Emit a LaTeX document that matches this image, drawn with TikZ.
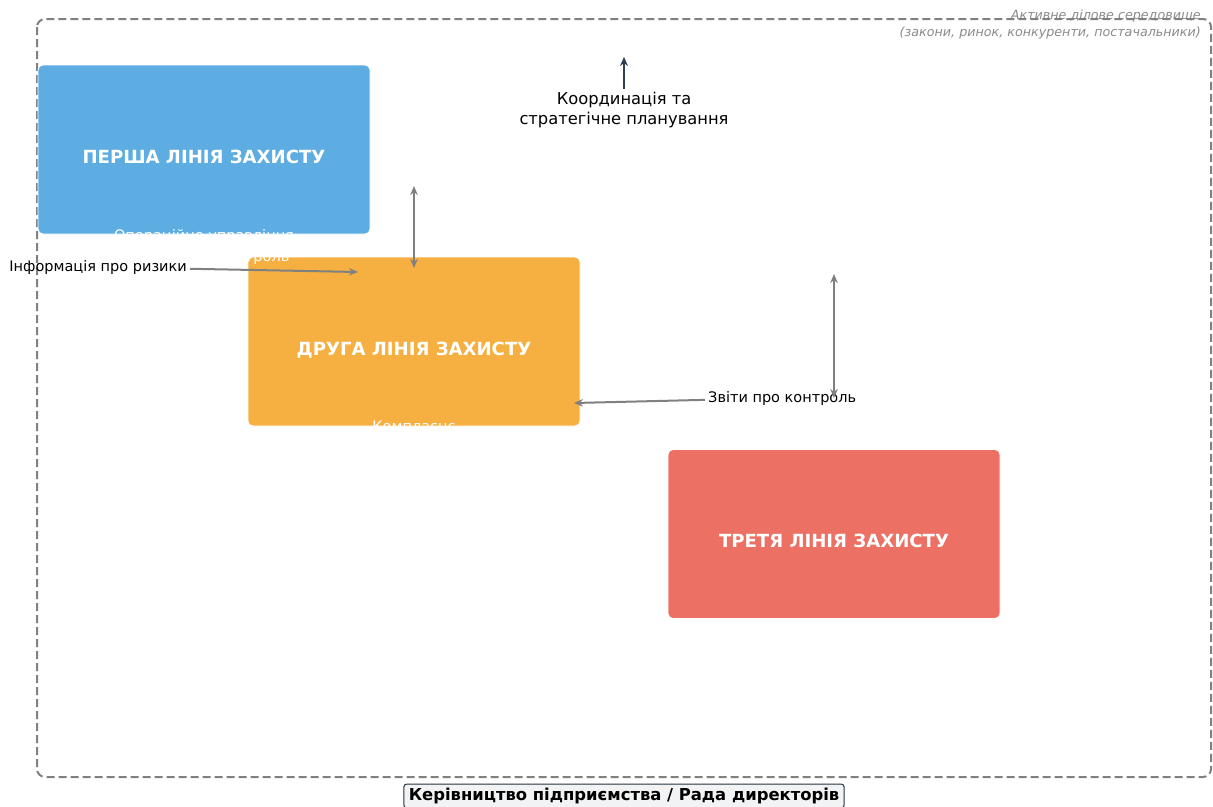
\documentclass[tikz,border=0pt]{standalone}
\usepackage{fontspec}
\setmainfont{DejaVu Sans}
\usetikzlibrary{arrows.meta,positioning}

\definecolor{firstblue}{HTML}{5DADE2}
\definecolor{secondorange}{HTML}{F5B041}
\definecolor{thirdred}{HTML}{EC7063}
\definecolor{darkslate}{HTML}{2C3E50}
\definecolor{framegray}{HTML}{808080}
\definecolor{notegray}{HTML}{8A8A8A}
\definecolor{boardfill}{HTML}{F2F3F4}

\begin{document}
\begin{tikzpicture}[x=1pt,y=-1pt,
    linebox/.style={rounded corners=5pt, minimum width=332pt, minimum height=169pt, inner sep=0pt, draw=white, line width=0.8pt},
    boxtitle/.style={text=white, font=\bfseries\fontsize{18.1}{22}\selectfont},
    boxnote/.style={text=white, font=\fontsize{14.5}{21}\selectfont, align=center},
    tagtext/.style={font=\fontsize{14.5}{17}\selectfont, inner sep=3pt},
    link/.style={draw=framegray, line width=2pt, -{Stealth[length=9pt,width=7.5pt]}},
    twoway/.style={link, {Stealth[length=9pt,width=7.5pt]}-{Stealth[length=9pt,width=7.5pt]}}
]
    \useasboundingbox (0,0) rectangle (1213,806);

    % draw outer business environment
    \node[anchor=east, align=right, text=notegray, inner sep=0pt,
          font=\itshape\fontsize{12.7}{16.5}\selectfont] (envnote) at (1201,24.5)
        {Активне ділове середовище\\(закони, ринок, конкуренти, постачальники)};
    \draw[framegray, line width=2pt, dash pattern=on 8pt off 4pt, rounded corners=8pt]
        (37,19) rectangle (1211,777);

    % draw the three lines of defence
    \node[linebox, fill=firstblue] (line1) at (204,149.5) {};
    \node[linebox, fill=secondorange] (line2) at (414,341.5) {};
    \node[linebox, fill=thirdred] (line3) at (834,534) {};

    \node[boxtitle] (title1) at (204,157) {ПЕРША ЛІНІЯ ЗАХИСТУ};
    \node[boxtitle] (title2) at (414,350) {ДРУГА ЛІНІЯ ЗАХИСТУ};
    \node[boxtitle] (title3) at (834,541) {ТРЕТЯ ЛІНІЯ ЗАХИСТУ};
    \node[boxnote] (note1) at (204,246.5) {Операційне управління\\та поточний контроль};
    \node[boxnote] (note2) at (414,426) {Комплаєнс};

    % draw coordination arrow
    \node[align=center, inner sep=3pt, font=\fontsize{16.3}{20}\selectfont] (coord) at (624,110.5)
        {Координація та\\стратегічне планування};
    \coordinate (coordtop) at (624,57);
    \draw[darkslate, line width=2.5pt, -{Stealth[length=9pt,width=8pt]}] (coord) -- (coordtop);

    % draw information flows
    \node[tagtext, anchor=east] (riskinfo) at (190,267) {Інформація про ризики};
    \coordinate (riskhead) at (358,272);
    \draw[link] (riskinfo) -- (riskhead);

    \node[tagtext, anchor=west] (reports) at (705,398) {Звіти про контроль};
    \coordinate (reporthead) at (574,403);
    \draw[link] (reports) -- (reporthead);

    \coordinate (oneup) at (414,186);
    \coordinate (onedown) at (414,268);
    \draw[twoway] (oneup) -- (onedown);

    \coordinate (threeup) at (834,274);
    \coordinate (threedown) at (834,398);
    \draw[twoway] (threeup) -- (threedown);

    % draw management board
    \node[draw=darkslate!80!black, line width=1pt, fill=boardfill, rounded corners=3pt,
          inner xsep=5pt, inner ysep=4pt, font=\bfseries\fontsize{16.4}{19}\selectfont] (board) at (624,796)
        {Керівництво підприємства / Рада директорів};
\end{tikzpicture}
\end{document}
